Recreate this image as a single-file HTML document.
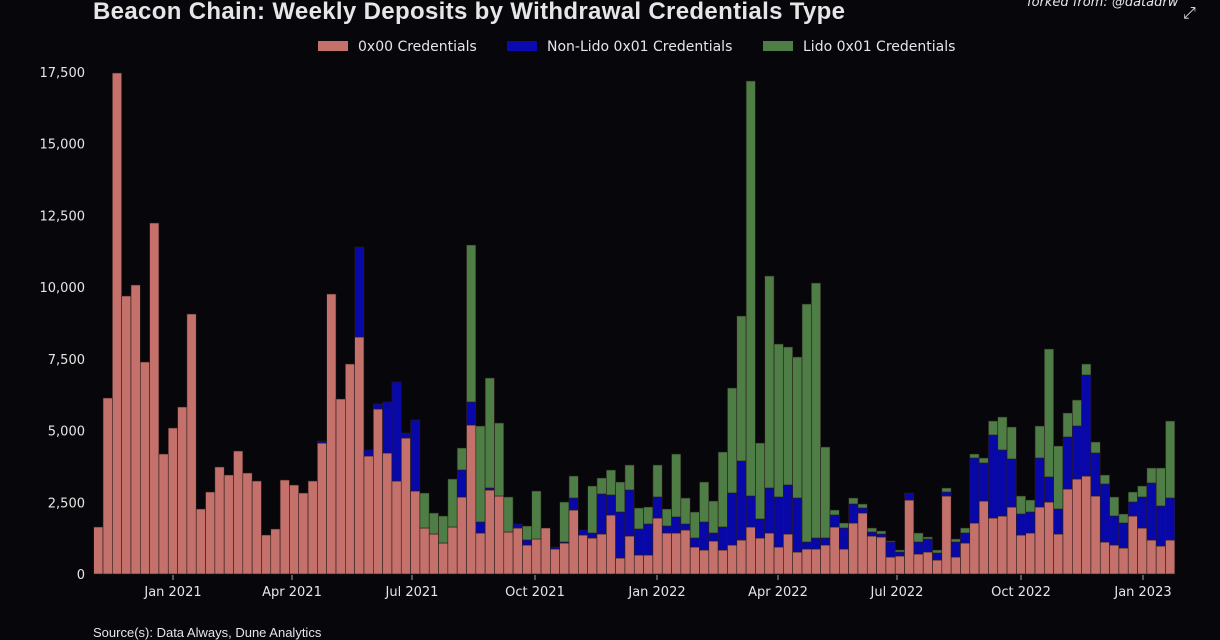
<!DOCTYPE html>
<html><head><meta charset="utf-8"><style>
html,body{margin:0;padding:0;background:#06060b;}
svg{display:block;}
text{font-family:"DejaVu Sans","Liberation Sans",sans-serif;fill:#e6e6e6;}
</style></head><body>
<svg id="c" width="1220" height="640" viewBox="0 0 1220 640" xmlns="http://www.w3.org/2000/svg">
<rect width="1220" height="640" fill="#06060b"/>
<text x="93" y="19" font-weight="bold" font-size="24" textLength="752" style="font-family:'Liberation Sans',sans-serif" fill="#e0e0e0">Beacon Chain: Weekly Deposits by Withdrawal Credentials Type</text>
<text x="1027" y="6" font-size="13" font-style="italic" fill="#cfcfcf">forked from: @datadrw</text>
<text x="1183" y="18" font-size="16" fill="#fff">⤢</text>
<rect x="318" y="41" width="30" height="10" fill="#c4716b"/>
<text x="358" y="51" font-size="14">0x00 Credentials</text>
<rect x="507" y="41" width="30" height="10" fill="#0a0ab0"/>
<text x="547" y="51" font-size="14">Non-Lido 0x01 Credentials</text>
<rect x="763" y="41" width="30" height="10" fill="#4e7d45"/>
<text x="803" y="51" font-size="14">Lido 0x01 Credentials</text>
<g id="ax" font-size="13" text-anchor="end"></g>
<g id="bars"></g>
<text x="93" y="637" font-size="13" style="font-family:'Liberation Sans',sans-serif" fill="#d8d8d8">Source(s): Data Always, Dune Analytics</text>
</svg>
<script>
var NS="http://www.w3.org/2000/svg";
function el(t,a,p,txt){var e=document.createElementNS(NS,t);for(var k in a)e.setAttribute(k,a[k]);if(txt)e.textContent=txt;p.appendChild(e);return e;}
var ax=document.getElementById('ax');
var labs=["0","2,500","5,000","7,500","10,000","12,500","15,000","17,500"];
for(var i=0;i<8;i++){var y=574-i*71.71;el('text',{x:85,y:y+5},ax,labs[i]);}
var xl=[["Jan 2021",173],["Apr 2021",292],["Jul 2021",412],["Oct 2021",535],["Jan 2022",657],["Apr 2022",778],["Jul 2022",897],["Oct 2022",1021],["Jan 2023",1143]];
xl.forEach(function(a){el('line',{x1:a[1],x2:a[1],y1:575,y2:580,stroke:'#aaa'},ax);el('text',{x:a[1],y:596,'text-anchor':'middle'},ax,a[0]);});
var d=[[527],[398],[73],[296],[285],[362],[223],[454],[428],[407],[314],[509],[492],[467],[475],[451],[473],[481],[535],[529],[480],[485],[493],[481],[443,441],[294],[399],[364],[337,247],[456,450],
[409,404],[453,402],[481,382],[438,433],[491,420],[528,528,493],[534,534,513],[543,543,516],[527,527,479],[497,470,448],[425,402,245],[533,522,426],[490,488,378],[496,496,423],[532,532,497],[528,524,524],[545,540,526],[539,539,491],[528],[549,547],[543,542,502],[510,498,476],[535,530],[538,533,486],[534,494,478],[515,495,470],[558,512,482],[536,490,465],[555,529,508],
[555,524,507],[518,497,465],[533,526,509],[533,517,454],[530,524,498],[547,538,512],[550,522,482],[541,533,501],[550,527,452],[545,493,388],[540,461,316],[527,496,81],[538,519,443],[533,488,276],[547,497,344],[534,485,347],[552,498,357],[549,542,304],[549,538,283],[545,538,447],[527,515,510],[549,528,523],[523,504,498],[513,508,504],[536,532,528],[537,534,531],[557,542,541],[556,552,550],
[500,493],[554,542,533],[552,539,537],[560,553,550],[496,492,488],[557,542,539],[543,533,528],[523,458,454],[501,463,458],[518,435,421],[516,450,417],[507,459,427],[535,514,496],[533,512,500],[507,458,426],[502,477,349],[534,509,446],[489,437,413],[479,426,400],[476,375,364],[496,453,442],[542,484,475],[545,516,497],[548,523,514],[516,502,492],[528,497,486],[540,483,468],[546,506,468],[540,498,421]];
var g=document.getElementById('bars');var w=9.32,x0=93.7,base=574;var cols=['#c4716b','#0808a8','#4e7d45'];
d.forEach(function(b,i){var x=x0+i*w;var prev=base;for(var k=0;k<b.length;k++){var t=b[k];if(t<prev){el('rect',{x:x.toFixed(2),y:t,width:w.toFixed(2),height:prev-t,fill:cols[k],stroke:'#2a1a1a','stroke-width':0.6},g);prev=t;}}});
</script>
</body></html>
